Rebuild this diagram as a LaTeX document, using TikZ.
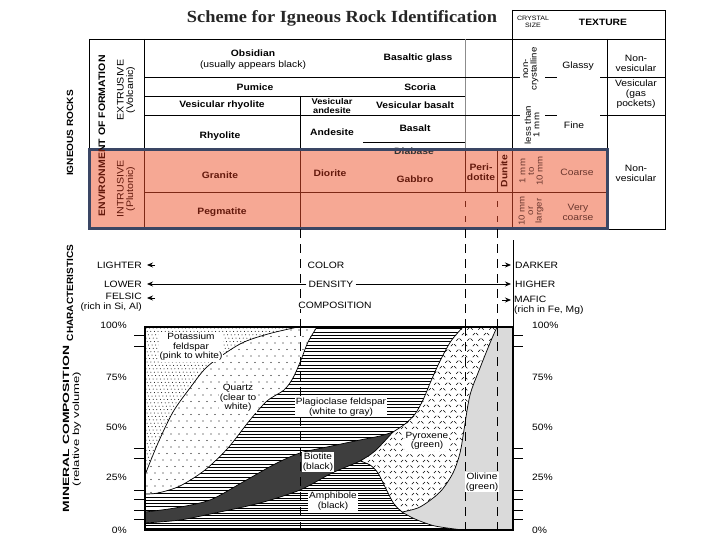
\documentclass[tikz,border=0pt]{standalone}
\usepackage{fontspec}
\setmainfont{Liberation Sans}[FakeStretch=1.12]
\newfontfamily\titlefont{Liberation Serif}
\usetikzlibrary{arrows.meta}
\definecolor{redfill}{RGB}{246,168,148}
\definecolor{navyb}{RGB}{58,70,100}
\definecolor{dred}{RGB}{125,40,22}
\definecolor{txtred}{RGB}{100,25,12}
\definecolor{graylin}{RGB}{140,140,140}
\definecolor{olgray}{RGB}{218,218,218}
\definecolor{biot}{RGB}{62,62,62}
% chart regions
\newcommand{\RegK}{(145,327) -- (298,327) -- plot[smooth] coordinates {(298,327) (268,334) (240,344) (208,366) (190,388) (173,412) (158,443) (145,475)} -- cycle}
\newcommand{\RegQ}{(298,327) -- (317,327) -- plot[smooth] coordinates {(317,327) (308,342) (301,360) (293,378) (284,390) (267,401) (250,420) (228,448) (205,470) (180,486) (158,493) (145,494)} -- (145,475) -- plot[smooth] coordinates {(145,475) (158,443) (173,412) (190,388) (208,366) (240,344) (268,334) (298,327)} -- cycle}
\newcommand{\RegP}{(317,327) -- plot[smooth] coordinates {(317,327) (308,342) (301,360) (293,378) (284,390) (267,401) (250,420) (228,448) (205,470) (180,486) (158,493) (145,494)} -- (145,512) -- plot[smooth] coordinates {(145,512) (175,508) (210,500) (243,482) (275,464) (300,453) (327,447) (360,440) (380,436) (393,432)} -- plot[smooth] coordinates {(393,432) (405,424) (415,414) (423,400) (431,381) (440,361) (451,341) (463,327)} -- cycle}
\newcommand{\RegB}{(145,512) -- plot[smooth] coordinates {(145,512) (175,508) (210,500) (243,482) (275,464) (300,453) (327,447) (360,440) (380,436) (393,432)} -- plot[smooth] coordinates {(393,432) (375,451) (360,461) (346,467) (330,474) (300,490) (260,503) (215,513) (180,520) (145,523)} -- cycle}
\newcommand{\RegA}{(145,523) -- plot[smooth] coordinates {(145,523) (180,520) (215,513) (260,503) (300,490) (330,474) (346,467) (360,461)} -- plot[smooth] coordinates {(360,461) (370,465) (378,473) (386,489) (394,504) (402,512)} -- plot[smooth] coordinates {(402,512) (415,519) (435,526) (463,530)} -- (145,530) -- cycle}
\newcommand{\RegX}{(463,327) -- (497,327) -- plot[smooth] coordinates {(497,327) (490,343) (480,368) (470,395) (464,430) (460,453) (453,473) (440,492) (420,507) (402,512)} -- plot[smooth] coordinates {(402,512) (394,504) (386,489) (378,473) (370,465) (360,461)} -- plot[smooth] coordinates {(360,461) (375,451) (393,432)} -- plot[smooth] coordinates {(393,432) (405,424) (415,414) (423,400) (431,381) (440,361) (451,341) (463,327)} -- cycle}
\newcommand{\RegO}{(497,327) -- (513,327) -- (513,530) -- (463,530) -- plot[smooth] coordinates {(463,530) (435,526) (415,519) (402,512)} -- plot[smooth] coordinates {(402,512) (420,507) (440,492) (453,473) (460,453) (464,430) (470,395) (480,368) (490,343) (497,327)} -- cycle}
\begin{document}
\begin{tikzpicture}[x=1pt,y=-1pt,
  rock/.style={font=\bfseries\fontsize{9.2}{10}\selectfont, inner sep=1pt, align=center},
  note/.style={font=\fontsize{9.2}{10}\selectfont, inner sep=1pt, align=center},
  tiny/.style={font=\fontsize{6.3}{6.6}\selectfont, inner sep=1pt, align=center},
  vrot/.style={rotate=90},
  tline/.style={line width=0.8pt},
  rline/.style={draw=dred, line width=0.8pt},
  dashv/.style={line width=0.8pt, dash pattern=on 9pt off 6pt},
  mlab/.style={font=\fontsize{9}{9.6}\selectfont, fill=white, inner sep=1pt, align=center},
  arr/.style={-{Stealth[length=6pt,width=5pt]}, line width=0.8pt},
  bnd/.style={line width=0.7pt}]
\useasboundingbox (0,0) rectangle (720,540);
\fill[white] (0,0) rectangle (720,540);

% title
\node[font=\titlefont\bfseries\fontsize{17}{18}\selectfont, text=black!85, inner sep=0] (title) at (342,18) {\scalebox{1.08}[1]{Scheme for Igneous Rock Identification}};

% ---------- top table (extrusive) ----------
\draw[tline] (89,39) -- (665,39);
\draw[tline] (89,39) -- (89,150);
\draw[tline] (144,39) -- (144,150);
\draw[tline] (300,96) -- (300,150);
\draw[graylin, tline] (465,39) -- (465,150);
\draw[tline] (512,10) -- (512,150);
\draw[tline] (512,10) -- (665,10) -- (665,229) -- (607,229);
\draw[tline] (607,39) -- (607,150);
\draw[tline] (144,77) -- (520,77) (545,77) -- (557,77) (600,77) -- (665,77);
\draw[tline] (144,96) -- (465,96);
\draw[tline] (144,115) -- (520,115) (545,115) -- (557,115) (600,115) -- (665,115);
\draw[tline] (363,142) -- (465,142);

\node[rock] (obs) at (253,53) {Obsidian};
\node[note] (obsn) at (253,65) {(usually appears black)};
\node[rock] (bglass) at (418,58) {Basaltic glass};
\node[rock] (pumice) at (255,87) {Pumice};
\node[rock] (scoria) at (420,87) {Scoria};
\node[rock] (vrhy) at (222,105) {Vesicular rhyolite};
\node[rock, font=\bfseries\fontsize{8.3}{8.6}\selectfont] (vand) at (332,106) {Vesicular\\andesite};
\node[rock] (vbas) at (415,105) {Vesicular basalt};
\node[rock] (rhy) at (220,136) {Rhyolite};
\node[rock] (and) at (332,132) {Andesite};
\node[rock] (bas) at (415,128) {Basalt};

\node[tiny] (csize) at (533,22) {CRYSTAL\\SIZE};
\node[rock] (texture) at (603,22) {TEXTURE};
\node[note, vrot, font=\fontsize{8.6}{8.6}\selectfont] (noncr) at (531,69) {non-\\crystalline};
\node[note] (glassy) at (578,66) {Glassy};
\node[note] (nv1) at (636,63) {Non-\\vesicular};
\node[note] (ves) at (636,94) {Vesicular\\(gas\\pockets)};
\node[note, vrot, font=\fontsize{8.6}{8.6}\selectfont] (lt1) at (532,125) {less than\\1 mm};
\node[note] (fine) at (574,125) {Fine};
\node[note] (nv2) at (636,173) {Non-\\vesicular};

% ---------- red (intrusive) box ----------
\fill[redfill] (89,150) rectangle (607,229);
\draw[rline] (144,150) -- (144,229);
\draw[rline] (300,150) -- (300,229);
\draw[rline] (465,150) -- (465,192);
\draw[rline] (497,150) -- (497,192);
\draw[rline] (512,150) -- (512,229);
\draw[rline] (144,192) -- (607,192);
\draw[rline, dash pattern=on 6pt off 9pt, dash phase=-9pt] (465,192) -- (465,229);
\draw[rline, dash pattern=on 6pt off 9pt, dash phase=-9pt] (497,192) -- (497,229);
\node[rock, text=black!80] (diab) at (414,151) {Diabase};
\draw[navyb, line width=3pt] (89,150) rectangle (607,229);

\node[rock, text=txtred] (gran) at (220,175) {Granite};
\node[rock, text=txtred] (dior) at (330,173) {Diorite};
\node[rock, text=txtred] (gab) at (415,179) {Gabbro};
\node[rock, text=txtred] (peri) at (481,172) {Peri-\\dotite};
\node[rock, text=txtred, vrot] (dun) at (504,171) {Dunite};
\node[rock, text=txtred] (peg) at (222,212) {Pegmatite};
\node[note, vrot, text=txtred!70!gray, font=\fontsize{8.6}{8.6}\selectfont] (mm1) at (531,171) {1 mm\\to\\10 mm};
\node[note, text=txtred!70!gray] (coarse) at (577,172) {Coarse};
\node[note, vrot, text=txtred!70!gray, font=\fontsize{8.6}{8.6}\selectfont] (mm10) at (531,211) {10 mm\\or\\larger};
\node[note, text=txtred!70!gray] (vcoarse) at (578,212) {Very\\coarse};

% ---------- left vertical labels ----------
\node[rock, vrot, font=\bfseries\fontsize{9}{9}\selectfont] (igr) at (70,133) {IGNEOUS ROCKS};
\begin{scope}
\clip (80,30) rectangle (120,150);
\node[rock, vrot, font=\bfseries\fontsize{9.4}{9}\selectfont] (envt) at (102,136) {ENVIRONMENT OF FORMATION};
\end{scope}
\begin{scope}
\clip (80,150) rectangle (120,235);
\node[rock, vrot, text=txtred, font=\bfseries\fontsize{9.4}{9}\selectfont] (envb) at (102,136) {ENVIRONMENT OF FORMATION};
\end{scope}
\node[note, vrot, font=\fontsize{9.5}{9.5}\selectfont] (extr) at (126,90) {EXTRUSIVE\\(Volcanic)};
\node[note, vrot, text=txtred, font=\fontsize{9.5}{9.5}\selectfont] (intr) at (126,189) {INTRUSIVE\\(Plutonic)};
\node[rock, vrot, font=\bfseries\fontsize{9}{9}\selectfont] (charac) at (70,293) {CHARACTERISTICS};
\node[note, vrot, font=\fontsize{9}{10}\selectfont] (minc) at (72,429) {\scalebox{1.38}[1]{\textbf{MINERAL COMPOSITION}}\\\scalebox{1.3}[1]{(relative by volume)}};

% ---------- characteristics ----------
\draw[dashv] (300,229) -- (300,530);
\draw[dashv] (465,229) -- (465,530);
\draw[dashv] (497,229) -- (497,530);
\draw[tline] (513,240) -- (513,327);

\node[note, anchor=east] (lighter) at (143,265) {LIGHTER};
\node[note, anchor=east] (lower) at (143,284) {LOWER};
\node[note, anchor=east, align=right] (felsic) at (143,302) {FELSIC\\(rich in Si, Al)};
\node[note] (color) at (326,265) {COLOR};
\node[note, fill=white, inner sep=2pt] (density) at (331,284) {DENSITY};
\node[note, fill=white, inner sep=1pt] (compo) at (335,305) {COMPOSITION};
\node[note, anchor=west] (darker) at (514,265) {DARKER};
\node[note, anchor=west] (higher) at (514,284) {HIGHER};
\node[note, anchor=west, align=left] (mafic) at (513,305) {MAFIC\\(rich in Fe, Mg)};
\coordinate (lA) at (155,265); \coordinate (lB) at (147,265);
\coordinate (dA) at (147,284); \coordinate (dB) at (511,284);
\coordinate (fA) at (155,298); \coordinate (fB) at (147,298);
\coordinate (rA) at (502,265); \coordinate (rB) at (511,265);
\coordinate (mA) at (502,300); \coordinate (mB) at (511,300);
\draw[arr] (lA) -- (lB);
\draw[arr] (fA) -- (fB);
\draw[arr] (density.west) -- (dA);
\draw[arr] (density.east) -- (dB);
\draw[arr] (rA) -- (rB);
\draw[arr] (mA) -- (mB);

% ---------- mineral chart ----------
\fill[white] (145,327) rectangle (513,530);
\begin{scope}
\clip \RegK;
\fill \foreach \j in {0,...,45} { \foreach \i in {0,...,44} { ({146+\i*3.6+mod(\j,3)*1.2},{328+\j*3.4}) circle[radius=0.5] } };
\end{scope}
\begin{scope}
\clip \RegQ;
\fill \foreach \j in {0,...,26} { \foreach \i in {0,...,22} { ({147+\i*8+mod(\j,2)*4},{330+\j*6.5}) circle[radius=0.6] } };
\end{scope}
\begin{scope}
\clip \RegP;
\foreach \y in {328.5,331.8,...,514} \draw[line width=0.5pt] (145,\y) -- (470,\y);
\end{scope}
\fill[biot] \RegB;
\begin{scope}
\clip \RegA;
\foreach \y in {440.5,443,...,530} \draw[line width=0.5pt] (145,\y) -- (470,\y);
\end{scope}
\begin{scope}
\clip \RegX;
\foreach \c in {-176,-165,...,190} \draw[line width=0.55pt, dash pattern=on 3pt off 4.8pt] ({\c+300},300) -- ({\c+560},560);
\foreach \c in {676,687,...,1040} \draw[line width=0.55pt, dash pattern=on 3pt off 4.8pt] ({\c-300},300) -- ({\c-560},560);
\end{scope}
\fill[olgray] \RegO;

\draw[bnd] plot[smooth] coordinates {(298,327) (268,334) (240,344) (208,366) (190,388) (173,412) (158,443) (145,475)};
\draw[bnd] plot[smooth] coordinates {(317,327) (308,342) (301,360) (293,378) (284,390) (267,401) (250,420) (228,448) (205,470) (180,486) (158,493) (145,494)};
\draw[bnd] plot[smooth] coordinates {(145,512) (175,508) (210,500) (243,482) (275,464) (300,453) (327,447) (360,440) (380,436) (393,432)};
\draw[bnd] plot[smooth] coordinates {(393,432) (375,451) (360,461) (346,467) (330,474) (300,490) (260,503) (215,513) (180,520) (145,523)};
\draw[bnd] plot[smooth] coordinates {(360,461) (370,465) (378,473) (386,489) (394,504) (402,512)};
\draw[bnd] plot[smooth] coordinates {(402,512) (415,519) (435,526) (463,530)};
\draw[bnd] plot[smooth] coordinates {(402,512) (420,507) (440,492) (453,473) (460,453) (464,430) (470,395) (480,368) (490,343) (497,327)};
\draw[bnd] plot[smooth] coordinates {(393,432) (405,424) (415,414) (423,400) (431,381) (440,361) (451,341) (463,327)};

\draw[dashv] (300,327) -- (300,530);
\draw[dashv] (465,327) -- (465,530);
\draw[dashv] (497,327) -- (497,530);

\node[mlab] (kspar) at (191,347) {Potassium\\feldspar\\(pink to white)};
\node[mlab] (qtz) at (238,398) {Quartz\\(clear to\\white)};
\node[mlab] (plag) at (341,407) {Plagioclase feldspar\\(white to gray)};
\node[mlab] (biolab) at (318,462) {Biotite\\(black)};
\node[mlab] (amph) at (333,501) {Amphibole\\(black)};
\node[mlab] (pyx) at (427,441) {Pyroxene\\(green)};
\node[mlab] (oliv) at (482,482) {Olivine\\(green)};

\draw[line width=1.5pt] (145,327) rectangle (513,530);

% percent labels and ticks
\foreach \p/\y/\n in {100/325/a,75/377/b,50/427/c,25/477/d,0/530/e} {
  \node[note, anchor=east] (pl\n) at (128,\y) {\p\%};
  \node[note, anchor=west] (pr\n) at (531,\y) {\p\%};
}
\foreach \y in {335,346,448,458,490,499,510,519} {
  \draw[line width=0.7pt] (134,\y) -- (145,\y);
  \draw[line width=0.7pt] (513,\y) -- (523,\y);
}
\end{tikzpicture}
\end{document}
